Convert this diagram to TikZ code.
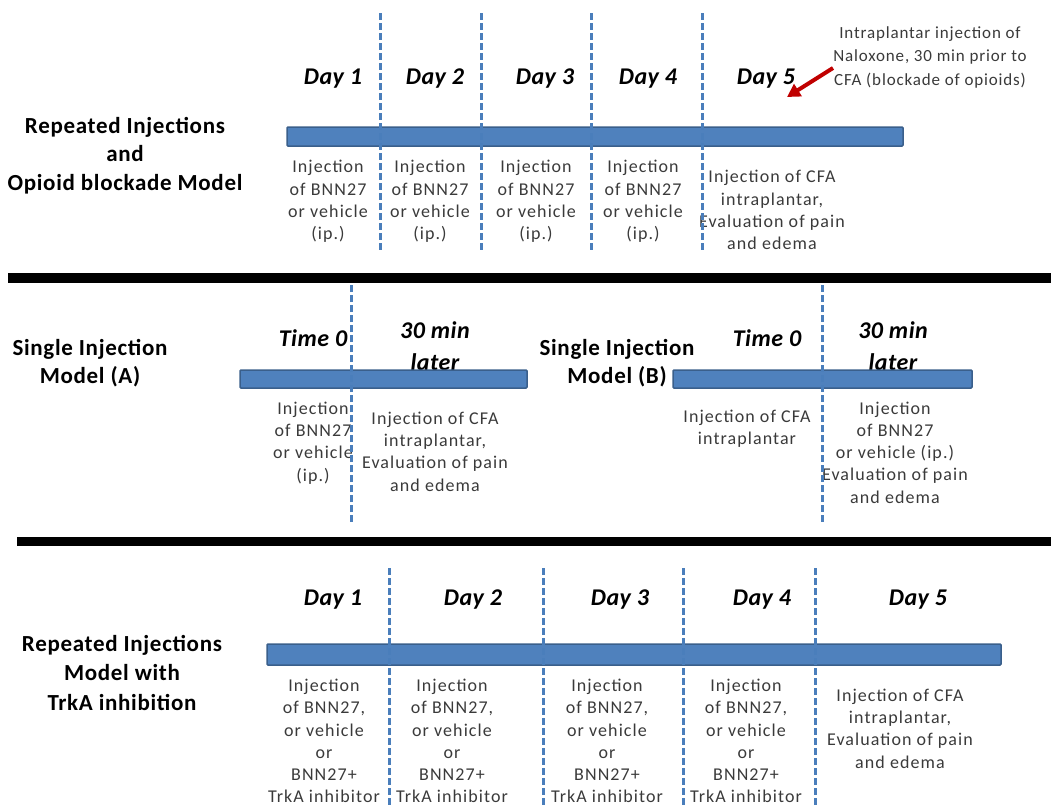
\documentclass[tikz,border=0pt]{standalone}
\usepackage{fontspec}
\setmainfont{Carlito}
\newfontfamily\bodyfont[LetterSpace=6]{Carlito}
\newfontfamily\notefont[LetterSpace=5]{Carlito}
\newfontfamily\titlefont[LetterSpace=3]{Carlito}
\newfontfamily\dayfont[LetterSpace=2]{Carlito}
\usetikzlibrary{arrows.meta}
\definecolor{barblue}{HTML}{4F81BD}
\definecolor{barline}{HTML}{3A5F8B}
\definecolor{dashblue}{HTML}{4A7EBB}
\definecolor{txtgray}{HTML}{3A3A3A}
\definecolor{arrowred}{HTML}{C00000}
\begin{document}
\begin{tikzpicture}[x=1pt,y=-1pt,
  bar/.style={draw=barline,fill=barblue,line width=1.5pt,rounded corners=1pt},
  sep/.style={fill=black,draw=none},
  divider/.style={dashblue,line width=3pt,dash pattern=on 7pt off 3pt},
  title/.style={font=\titlefont\fontsize{23}{28.5}\selectfont\bfseries,align=center,text=black,inner sep=0pt},
  daylbl/.style={font=\dayfont\fontsize{24}{28}\selectfont\bfseries\itshape,text=black,inner sep=0pt},
  body/.style={font=\bodyfont\fontsize{18}{22.3}\selectfont,align=center,text=txtgray,inner sep=0pt},
  note/.style={font=\notefont\fontsize{17}{23.5}\selectfont,align=center,text=txtgray,inner sep=0pt},
  redarrow/.style={arrowred,line width=4pt,-{Triangle[length=13pt,width=14pt]}}
]
\useasboundingbox (0,0) rectangle (1051,807);

% ---------------- Section 1 ----------------
\node[title] (t1) at (125,155.5) {Repeated Injections\\and\\Opioid blockade Model};
\node[daylbl] (d11) at (333,79) {Day 1};
\node[daylbl] (d12) at (435,79) {Day 2};
\node[daylbl] (d13) at (545,79) {Day 3};
\node[daylbl] (d14) at (648,79) {Day 4};
\node[daylbl] (d15) at (766,79) {Day 5};
\node[bar,minimum width=616pt,minimum height=19pt,inner sep=0pt] (bar1) at (595,136.5) {};
\node[body] (c11) at (328,201.5) {Injection\\of BNN27\\or vehicle\\(ip.)};
\node[body] (c12) at (430,201.5) {Injection\\of BNN27\\or vehicle\\(ip.)};
\node[body] (c13) at (536,201.5) {Injection\\of BNN27\\or vehicle\\(ip.)};
\node[body] (c14) at (643,201.5) {Injection\\of BNN27\\or vehicle\\(ip.)};
\node[body] (c15) at (772,210) {Injection of CFA\\intraplantar,\\Evaluation of pain\\and edema};
\node[note] (nal) at (930,57) {Intraplantar injection of\\Naloxone, 30 min prior to\\CFA (blockade of opioids)};
\coordinate (a1s) at (833,68);
\coordinate (a1e) at (787,97);
\draw[redarrow] (a1s) -- (a1e);
\foreach \i/\x in {1/380,2/481,3/591,4/702}{
  \coordinate (u1\i) at (\x,13);
  \coordinate (l1\i) at (\x,253);
  \draw[divider] (u1\i) -- (l1\i);
}

% separator 1
\node[sep,minimum width=1043pt,minimum height=10pt,inner sep=0pt] (sep1) at (529.5,278) {};

% ---------------- Section 2 ----------------
\node[title] (t2a) at (90,363) {Single Injection\\Model (A)};
\node[daylbl] (tA0) at (313,338) {Time 0};
\node[daylbl,anchor=base] (tA30) at (435,338) {30 min};
\node[daylbl,anchor=base] (tAl) at (435,370) {later};
\node[bar,minimum width=287pt,minimum height=18pt,inner sep=0pt] (barA) at (383.5,379) {};
\node[body] (cA1) at (313,443) {Injection\\of BNN27\\or vehicle\\(ip.)};
\node[body] (cA2) at (435,451.5) {Injection of CFA\\intraplantar,\\Evaluation of pain\\and edema};
\coordinate (uA) at (351,285);
\coordinate (lA) at (351,523);
\draw[divider] (uA) -- (lA);

\node[title] (t2b) at (617,363) {Single Injection\\Model (B)};
\node[daylbl] (tB0) at (767,338) {Time 0};
\node[daylbl,anchor=base] (tB30) at (893,338) {30 min};
\node[daylbl,anchor=base] (tBl) at (893,370) {later};
\node[bar,minimum width=299pt,minimum height=18pt,inner sep=0pt] (barB) at (822.5,379) {};
\node[body] (cB1) at (747,429) {Injection of CFA\\intraplantar};
\node[body] (cB2) at (895,452.5) {Injection\\of BNN27\\or vehicle (ip.)\\Evaluation of pain\\and edema};
\coordinate (uB) at (822,285);
\coordinate (lB) at (822,523);
\draw[divider] (uB) -- (lB);

% separator 2
\node[sep,minimum width=1034pt,minimum height=9pt,inner sep=0pt] (sep2) at (534,541.5) {};

% ---------------- Section 3 ----------------
\node[title,font=\titlefont\fontsize{23}{29.5}\selectfont\bfseries] (t3) at (122,672.5) {Repeated Injections\\Model with\\TrkA inhibition};
\node[daylbl] (d31) at (333,600) {Day 1};
\node[daylbl] (d32) at (473,600) {Day 2};
\node[daylbl] (d33) at (620,600) {Day 3};
\node[daylbl] (d34) at (762,600) {Day 4};
\node[daylbl] (d35) at (918,600) {Day 5};
\node[bar,minimum width=734pt,minimum height=21pt,inner sep=0pt] (bar3) at (634,654.5) {};
\node[body] (c31) at (324,741) {Injection\\of BNN27,\\or vehicle\\or\\BNN27+\\TrkA inhibitor};
\node[body] (c32) at (452,741) {Injection\\of BNN27,\\or vehicle\\or\\BNN27+\\TrkA inhibitor};
\node[body] (c33) at (607,741) {Injection\\of BNN27,\\or vehicle\\or\\BNN27+\\TrkA inhibitor};
\node[body] (c34) at (746,741) {Injection\\of BNN27,\\or vehicle\\or\\BNN27+\\TrkA inhibitor};
\node[body] (c35) at (900,728.5) {Injection of CFA\\intraplantar,\\Evaluation of pain\\and edema};
\foreach \i/\x in {1/389,2/543,3/683,4/815}{
  \coordinate (u3\i) at (\x,568);
  \coordinate (l3\i) at (\x,807);
  \draw[divider] (u3\i) -- (l3\i);
}
\end{tikzpicture}
\end{document}
